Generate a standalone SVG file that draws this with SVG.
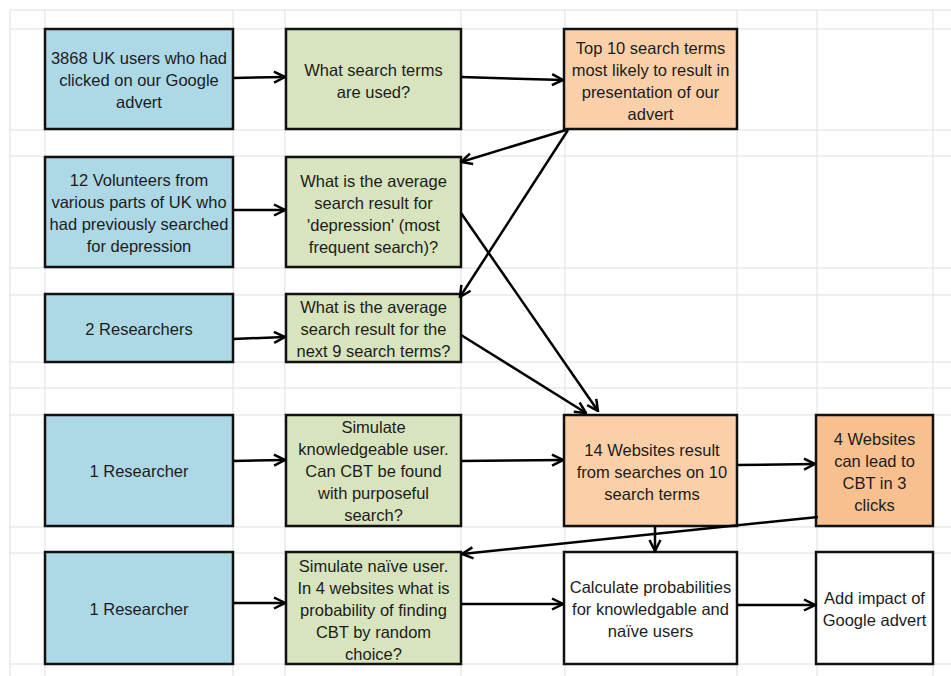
<svg xmlns="http://www.w3.org/2000/svg" width="951" height="676" viewBox="0 0 951 676">
  <style>
    .grid line { stroke: #dcdfe4; stroke-width: 1; }
    .box { stroke: #111; stroke-width: 2.5; }
    .blue { fill: #add8e6; }
    .green { fill: #d7e4bd; }
    .orange { fill: #fbd0a9; }
    .orange2 { fill: #f9c08f; }
    .white { fill: #ffffff; }
    text { font-family: "Liberation Sans", Arial, sans-serif; font-size: 16.5px; fill: #1c1c1c; text-anchor: middle; }
    .conn line { stroke: #000; stroke-width: 2.5; marker-end: url(#arr); }
  </style>
  <defs>
    <marker id="arr" viewBox="0 0 14 14" refX="12.5" refY="7" markerWidth="14" markerHeight="14" markerUnits="userSpaceOnUse" orient="auto">
      <path d="M1.5,1.5 L12.5,7 L1.5,12.5" fill="none" stroke="#000" stroke-width="2.5"/>
    </marker>
  </defs>
  <rect width="951" height="676" fill="#ffffff"/>
  <g class="grid">
    <line x1="10" y1="10" x2="951" y2="10"/>
    <line x1="10" y1="29" x2="951" y2="29"/>
    <line x1="10" y1="130" x2="951" y2="130"/>
    <line x1="10" y1="156" x2="951" y2="156"/>
    <line x1="10" y1="268" x2="951" y2="268"/>
    <line x1="10" y1="295" x2="951" y2="295"/>
    <line x1="10" y1="362" x2="951" y2="362"/>
    <line x1="10" y1="388" x2="951" y2="388"/>
    <line x1="10" y1="415" x2="951" y2="415"/>
    <line x1="10" y1="527" x2="951" y2="527"/>
    <line x1="10" y1="553" x2="951" y2="553"/>
    <line x1="10" y1="664" x2="951" y2="664"/>
    <line x1="10" y1="10" x2="10" y2="676"/>
    <line x1="45" y1="10" x2="45" y2="676"/>
    <line x1="233" y1="10" x2="233" y2="676"/>
    <line x1="285" y1="10" x2="285" y2="676"/>
    <line x1="461" y1="10" x2="461" y2="676"/>
    <line x1="565" y1="10" x2="565" y2="676"/>
    <line x1="737" y1="10" x2="737" y2="676"/>
    <line x1="817" y1="10" x2="817" y2="676"/>
    <line x1="933" y1="10" x2="933" y2="676"/>
  </g>

  <g id="n1"><rect class="box blue" x="45" y="29" width="188" height="100"/>
    <text x="139" y="64">3868 UK users who had</text><text x="139" y="86">clicked on our Google</text><text x="139" y="108">advert</text></g>
  <g id="n2"><rect class="box green" x="286" y="29" width="175" height="100"/>
    <text x="373.5" y="76">What search terms</text><text x="373.5" y="98">are used?</text></g>
  <g id="n3"><rect class="box orange" x="564" y="29" width="173" height="100"/>
    <text x="650.5" y="54">Top 10 search terms</text><text x="650.5" y="76">most likely to result in</text><text x="650.5" y="98">presentation of our</text><text x="650.5" y="120">advert</text></g>

  <g id="n4"><rect class="box blue" x="45" y="157" width="188" height="110"/>
    <text x="139" y="186">12 Volunteers from</text><text x="139" y="208">various parts of UK who</text><text x="139" y="230">had previously searched</text><text x="139" y="252">for depression</text></g>
  <g id="n5"><rect class="box green" x="286" y="157" width="175" height="110"/>
    <text x="373.5" y="187">What is the average</text><text x="373.5" y="209">search result for</text><text x="373.5" y="231">'depression' (most</text><text x="373.5" y="253">frequent search)?</text></g>

  <g id="n6"><rect class="box blue" x="45" y="294" width="188" height="68"/>
    <text x="139" y="335">2 Researchers</text></g>
  <g id="n7"><rect class="box green" x="286" y="294" width="175" height="68"/>
    <text x="373.5" y="313">What is the average</text><text x="373.5" y="335">search result for the</text><text x="373.5" y="357">next 9 search terms?</text></g>

  <g id="n8"><rect class="box blue" x="45" y="415" width="188" height="111"/>
    <text x="139" y="477">1 Researcher</text></g>
  <g id="n9"><rect class="box green" x="286" y="415" width="175" height="111"/>
    <text x="373.5" y="433">Simulate</text><text x="373.5" y="455">knowledgeable user.</text><text x="373.5" y="477">Can CBT be found</text><text x="373.5" y="499">with purposeful</text><text x="373.5" y="521">search?</text></g>
  <g id="n10"><rect class="box orange" x="564" y="415" width="173" height="111"/>
    <text x="652" y="456">14 Websites result</text><text x="652" y="478">from searches on 10</text><text x="652" y="500">search terms</text></g>
  <g id="n11"><rect class="box orange2" x="816" y="415" width="117" height="111"/>
    <text x="874.5" y="445">4 Websites</text><text x="874.5" y="467">can lead to</text><text x="874.5" y="489">CBT in 3</text><text x="874.5" y="511">clicks</text></g>

  <g id="n12"><rect class="box blue" x="45" y="552" width="188" height="112"/>
    <text x="139" y="615">1 Researcher</text></g>
  <g id="n13"><rect class="box green" x="286" y="552" width="175" height="112"/>
    <text x="373.5" y="572">Simulate naïve user.</text><text x="373.5" y="594">In 4 websites what is</text><text x="373.5" y="616">probability of finding</text><text x="373.5" y="638">CBT by random</text><text x="373.5" y="660">choice?</text></g>
  <g id="n14"><rect class="box white" x="564" y="552" width="173" height="112"/>
    <text x="650.5" y="593">Calculate probabilities</text><text x="650.5" y="615">for knowledgable and</text><text x="650.5" y="637">naïve users</text></g>
  <g id="n15"><rect class="box white" x="816" y="552" width="117" height="112"/>
    <text x="874.5" y="604">Add impact of</text><text x="874.5" y="626">Google advert</text></g>

  <g id="connectors" class="conn">
    <line x1="233" y1="78" x2="285" y2="77"/>
    <line x1="461" y1="77" x2="563" y2="80"/>
    <line x1="566" y1="130" x2="461" y2="162"/>
    <line x1="568" y1="130" x2="460" y2="297"/>
    <line x1="461" y1="213" x2="598" y2="411"/>
    <line x1="461" y1="335" x2="586" y2="413"/>
    <line x1="233" y1="210" x2="285" y2="210"/>
    <line x1="233" y1="339" x2="285" y2="337"/>
    <line x1="233" y1="461" x2="285" y2="460"/>
    <line x1="461" y1="461" x2="563" y2="460"/>
    <line x1="737" y1="465" x2="815" y2="464"/>
    <line x1="655" y1="526" x2="655" y2="551"/>
    <line x1="818" y1="517" x2="462" y2="554"/>
    <line x1="233" y1="603" x2="285" y2="603"/>
    <line x1="461" y1="604" x2="563" y2="604"/>
    <line x1="737" y1="605" x2="815" y2="605"/>
  </g>
</svg>
